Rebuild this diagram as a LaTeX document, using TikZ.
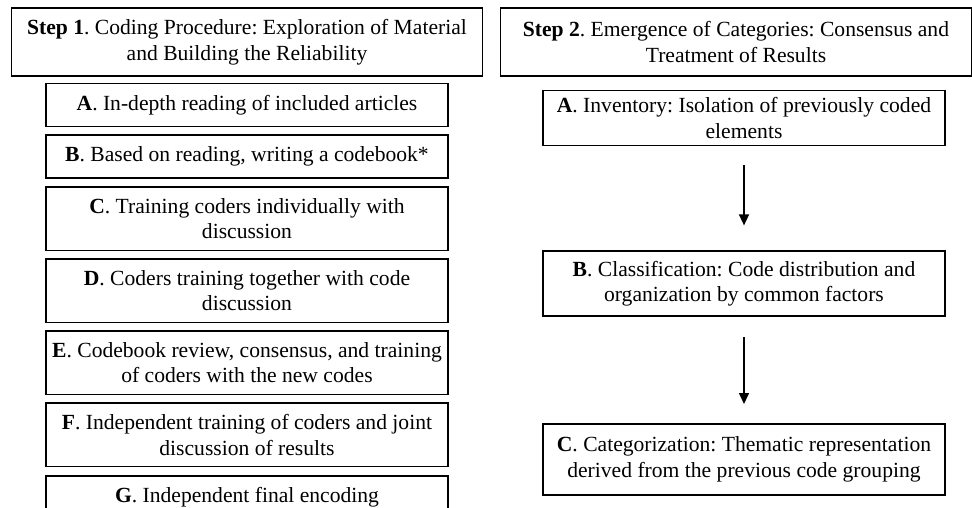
\documentclass[tikz,border=0pt]{standalone}
\usepackage{fontspec}
\setmainfont{Liberation Serif}
\usetikzlibrary{arrows.meta,positioning}
\frenchspacing

\begin{document}
\begin{tikzpicture}[x=1pt,y=-1pt]
  \tikzset{
    >={Triangle[length=11pt,width=10pt]},
    node distance=7pt,
    box/.style={draw,line width=1.6pt,align=center,inner sep=0pt,
      font=\fontsize{21.6}{25.5}\selectfont},
    stepbox/.style={box,minimum width=471pt,minimum height=68pt},
    task/.style={box,minimum width=402pt,minimum height=43pt},
    twoline/.style={task,minimum height=63.5pt},
    flow/.style={->,line width=1.5pt},
  }
  \clip (0,0) rectangle (972,507);

  % step 1
  \node [stepbox] (s1) at (247,42)
    {\textbf{Step 1}. Coding Procedure: Exploration of Material\\and Building the Reliability};
  \node [task]    (a1) [below=6pt of s1]  {\textbf{A}. In-depth reading of included articles};
  \node [task]    (b1) [below=of a1]  {\textbf{B}. Based on reading, writing a codebook*};
  \node [twoline] (c1) [below=of b1]  {\textbf{C}. Training coders individually with\\discussion};
  \node [twoline] (d1) [below=of c1]  {\textbf{D}. Coders training together with code\\discussion};
  \node [twoline] (e1) [below=of d1]  {\textbf{E}. Codebook review, consensus, and training\\of coders with the new codes};
  \node [twoline] (f1) [below=of e1]  {\textbf{F}. Independent training of coders and joint\\discussion of results};
  \node [task]    (g1) [below=8pt of f1]  {\textbf{G}. Independent final encoding};

  % step 2
  \node [stepbox] (s2) at (736,42)
    {\textbf{Step 2}. Emergence of Categories: Consensus and\\Treatment of Results};
  \node [task,minimum height=55pt] (a2) [below=13pt of s2,xshift=8pt]
    {\textbf{A}. Inventory: Isolation of previously coded\\elements};
  \node [task,minimum height=65pt] (b2) [below=104pt of a2]
    {\textbf{B}. Classification: Code distribution and\\organization by common factors};
  \node [task,minimum height=71pt] (c2) [below=106pt of b2]
    {\textbf{C}. Categorization: Thematic representation\\derived from the previous code grouping};

  \path
  (a2) edge[flow,shorten <=19pt,shorten >=25pt] (b2)
  (b2) edge[flow,shorten <=20pt,shorten >=19pt] (c2);
\end{tikzpicture}
\end{document}
